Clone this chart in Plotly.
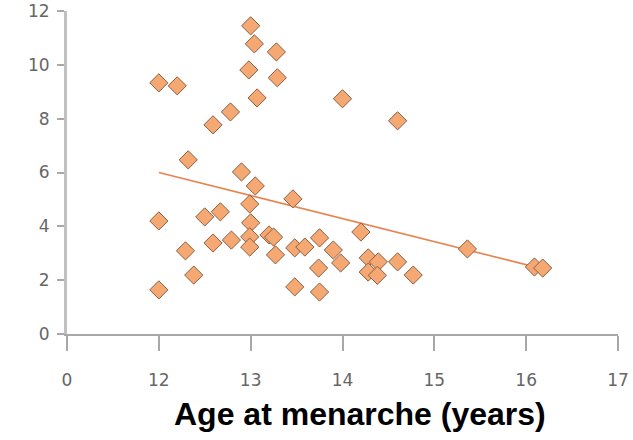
import plotly.graph_objects as go

# Age at menarche (years) vs. outcome value
age = [12.0, 12.2, 13.0, 13.04, 13.28, 12.98, 13.29, 13.07, 12.78, 12.59,
       12.32, 12.9, 13.05, 13.46, 12.0, 12.5, 12.67, 12.99, 13.0, 12.59,
       12.79, 12.99, 12.99, 13.2, 13.25, 13.27, 12.29, 12.38, 12.0, 13.48,
       13.59, 13.48, 14.0, 14.6, 14.2, 13.75, 13.9, 13.98, 13.74, 13.75,
       14.28, 14.39, 14.28, 14.38, 14.6, 14.77, 15.36, 16.09, 16.18]
value = [9.33, 9.22, 11.45, 10.78, 10.48, 9.81, 9.52, 8.77, 8.25, 7.77,
         6.47, 6.02, 5.50, 5.02, 4.20, 4.35, 4.54, 4.83, 4.13, 3.38,
         3.49, 3.61, 3.23, 3.68, 3.60, 2.94, 3.09, 2.19, 1.64, 3.20,
         3.23, 1.75, 8.74, 7.92, 3.79, 3.57, 3.12, 2.64, 2.45, 1.56,
         2.83, 2.68, 2.30, 2.18, 2.68, 2.19, 3.16, 2.49, 2.45]

# Fitted trend line end points
trend_x = [12.0, 16.18]
trend_y = [6.0, 2.42]

# Axis ticks (broken axis: "0" drawn at position 11)
x_tickvals = [11, 12, 13, 14, 15, 16, 17]
x_ticktext = ["0", "12", "13", "14", "15", "16", "17"]
y_tickvals = [0, 2, 4, 6, 8, 10, 12]

fig = go.Figure()
fig.add_trace(go.Scatter(x=trend_x, y=trend_y, mode="lines",
                         line=dict(color="#E8834E", width=1.6),
                         hoverinfo="skip", showlegend=False))
fig.add_trace(go.Scatter(x=age, y=value, mode="markers",
                         marker=dict(symbol="diamond", size=14, color="#F5A872",
                                     line=dict(color="#8A5E45", width=1)),
                         showlegend=False))

tickfont = dict(family="DejaVu Sans", size=17, color="#666666")
fig.update_layout(
    width=633, height=440,
    margin=dict(l=67, r=15, t=11, b=106),
    paper_bgcolor="white", plot_bgcolor="white",
    xaxis=dict(range=[11, 17], tickvals=x_tickvals, ticktext=x_ticktext,
               automargin=False,
               showgrid=False, zeroline=False, showline=True,
               linecolor="#a8a8a8", linewidth=2,
               ticks="outside", ticklen=15, tickcolor="#a8a8a8", tickwidth=2,
               tickfont=tickfont, ticklabelstandoff=15),
    yaxis=dict(range=[0, 12], tickvals=y_tickvals, automargin=False,
               showgrid=False, zeroline=False, showline=True,
               linecolor="#c0c0c0", linewidth=3,
               ticks="outside", ticklen=7, tickcolor="#a8a8a8", tickwidth=2,
               tickfont=tickfont, ticklabelstandoff=4),
    annotations=[dict(text="<b>Age at menarche (years)</b>", xref="paper", yref="paper",
                      x=0.532, y=-0.248, xanchor="center", yanchor="middle",
                      showarrow=False,
                      font=dict(family="Liberation Sans", size=32, color="black"))],
)
fig.write_html("out.html", config={"displayModeBar": False},
               post_script="document.body.style.margin='0';")
